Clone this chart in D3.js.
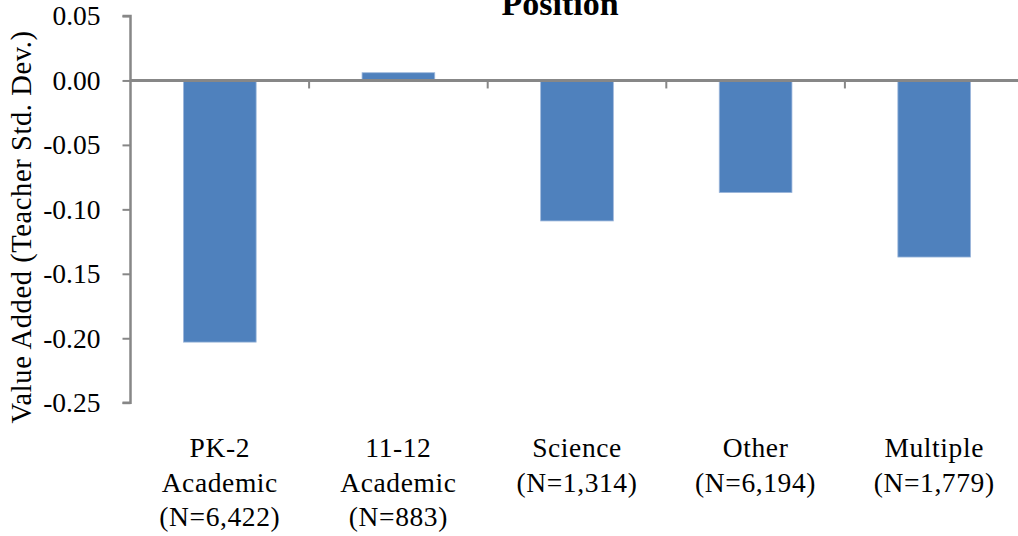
<!DOCTYPE html>
<html>
<head>
<meta charset="utf-8">
<script src="https://cdn.jsdelivr.net/npm/d3@7"></script>
<style>
  html, body { margin: 0; padding: 0; background: #fff; }
  svg { display: block; }
  text { font-family: "Liberation Serif", "Times New Roman", serif; fill: #000; }
</style>
</head>
<body>
<svg id="chart" width="1018" height="536"></svg>
<script>
const categories = [
  ["PK-2", "Academic", "(N=6,422)"],
  ["11-12", "Academic", "(N=883)"],
  ["Science", "(N=1,314)"],
  ["Other", "(N=6,194)"],
  ["Multiple", "(N=1,779)"]
];
const values = [-0.203, 0.006, -0.109, -0.087, -0.137];
const yTicks = [0.05, 0.00, -0.05, -0.10, -0.15, -0.20, -0.25];
const title = "Position";
const yTitle = "Value Added (Teacher Std. Dev.)";

const svg = d3.select("#chart");
const plotLeft = 130.5, plotRight = 1023.5, plotTop = 16, plotBottom = 402.7;
const keys = categories.map((c, i) => i);

const x = d3.scaleBand().domain(keys).range([plotLeft, plotRight]).paddingInner(0.593).paddingOuter(0.2965);
const xTickScale = d3.scaleLinear().domain([0, 5]).range([plotLeft, plotRight]);
const y = d3.scaleLinear().domain([-0.25, 0.05]).range([plotBottom, plotTop]);

const grey = "#878787";

// bars
svg.append("g").selectAll("rect").data(values).join("rect")
  .attr("x", (d, i) => x(i))
  .attr("width", x.bandwidth())
  .attr("y", d => y(Math.max(0, d)))
  .attr("height", d => Math.abs(y(d) - y(0)))
  .attr("fill", "#4F81BD")
  .attr("stroke", "#9DB7DB")
  .attr("stroke-width", 0.8);

// y axis
const yAxis = d3.axisLeft(y).tickValues(yTicks).tickSize(8).tickPadding(22)
  .tickFormat(d3.format(".2f"));
const gy = svg.append("g").attr("transform", `translate(${plotLeft},0)`).call(yAxis);
gy.select(".domain").attr("stroke", grey).attr("stroke-width", 2.5)
  .attr("d", `M-8,${y(0.05)}H0V${y(-0.25)}H-8`);
gy.selectAll(".tick line").attr("stroke", grey).attr("stroke-width", 2);
gy.selectAll(".tick text").attr("font-size", "27.5px")
  .attr("font-family", "Liberation Serif, Times New Roman, serif")
  .attr("fill", "#000")
  .text(d => d3.format(".2f")(d).replace("−", "-"));

// zero line with category ticks
const gx = svg.append("g");
gx.append("line").attr("x1", plotLeft).attr("x2", 1018).attr("y1", y(0)).attr("y2", y(0))
  .attr("stroke", grey).attr("stroke-width", 3);
gx.selectAll(".xt").data([1, 2, 3, 4]).join("line").attr("class", "xt")
  .attr("x1", d => xTickScale(d)).attr("x2", d => xTickScale(d))
  .attr("y1", y(0)).attr("y2", y(0) + 8)
  .attr("stroke", grey).attr("stroke-width", 2);

// category labels
const lab = svg.append("g").selectAll("text").data(categories).join("text")
  .attr("text-anchor", "middle")
  .attr("font-size", "27.5px")
  .attr("letter-spacing", "0.6px")
  .attr("x", (d, i) => x(i) + x.bandwidth() / 2)
  .attr("y", 457);
lab.selectAll("tspan").data(d => d).join("tspan")
  .attr("x", function() { return d3.select(this.parentNode).attr("x"); })
  .attr("dy", (d, i) => i === 0 ? 0 : 34.5)
  .text(d => d);

// title
svg.append("text").attr("x", 560).attr("y", 15).attr("text-anchor", "middle")
  .attr("font-size", "34px").attr("font-weight", "bold").text(title);

// y title
svg.append("text").attr("transform", `translate(31,227) rotate(-90)`)
  .attr("text-anchor", "middle").attr("font-size", "28.5px")
  .attr("letter-spacing", "0.6px").text(yTitle);
</script>
</body>
</html>
